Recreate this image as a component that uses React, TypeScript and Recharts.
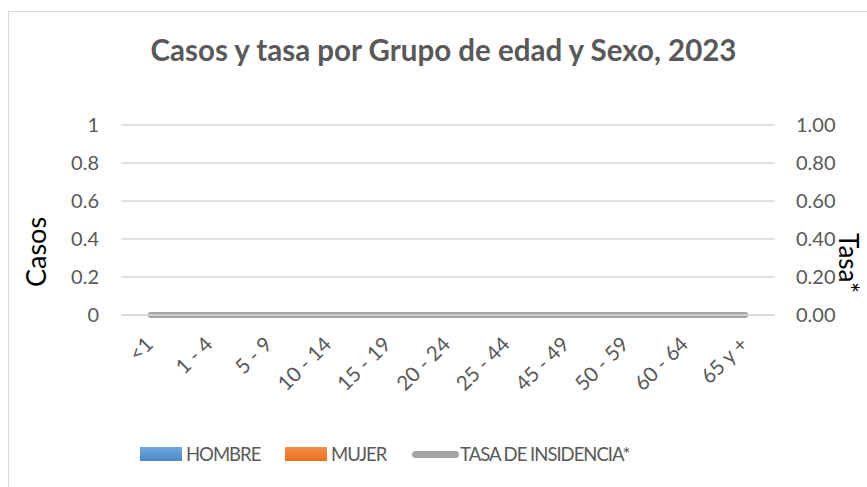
import React from 'react';
import { ComposedChart, Bar, Line, XAxis, YAxis, CartesianGrid } from 'recharts';

const AGE_GROUPS = ['<1', '1 - 4', '5 - 9', '10 - 14', '15 - 19', '20 - 24', '25 - 44', '45 - 49', '50 - 59', '60 - 64', '65 y +'];
const HOMBRE = [0, 0, 0, 0, 0, 0, 0, 0, 0, 0, 0];
const MUJER = [0, 0, 0, 0, 0, 0, 0, 0, 0, 0, 0];
const TASA = [0, 0, 0, 0, 0, 0, 0, 0, 0, 0, 0];
const LEFT_TICKS = [0, 0.2, 0.4, 0.6, 0.8, 1];
const RIGHT_TICKS = [0, 0.2, 0.4, 0.6, 0.8, 1];

const FONT = 'Lato, "Open Sans", sans-serif';
const TEXT = '#595959';

const data = AGE_GROUPS.map((g, i) => ({
  grupo: g,
  hombre: HOMBRE[i],
  mujer: MUJER[i],
  tasa: TASA[i],
}));

// rotated category labels, anchored at their end near the tick
const AgeTick = (props: any) => {
  const { x, y, payload } = props;
  return (
    <text
      transform={`translate(${x - 2},${y + 11}) rotate(-45)`}
      textAnchor="end"
      fill={TEXT}
      fontSize={20.5}
      fontFamily={FONT}
      dominantBaseline="central"
    >
      {payload.value}
    </text>
  );
};

const CasosLabel = () => (
  <text x={35} y={252} transform="rotate(-90 35 252)" textAnchor="middle" dominantBaseline="central" fontSize={27} fontFamily={FONT} fill="#000">
    Casos
  </text>
);

const TasaLabel = () => (
  <text x={849} y={263} transform="rotate(90 849 263)" textAnchor="middle" dominantBaseline="central" fontSize={26} fontFamily={FONT} fill="#000">
    Tasa*
  </text>
);

const LEGEND = [
  { kind: 'blue', label: 'HOMBRE', left: 140 },
  { kind: 'orange', label: 'MUJER', left: 285 },
  { kind: 'line', label: 'TASA DE INSIDENCIA*', left: 412 },
];

const LegendItem = ({ kind, label, left }: { kind: string; label: string; left: number }) => {
  let swatch: React.ReactNode;
  if (kind === 'line') {
    swatch = <span style={{ display: 'inline-block', width: 47, height: 7, borderRadius: 4, background: '#a5a5a5' }} />;
  } else {
    const bg = kind === 'blue'
      ? 'linear-gradient(#72a9df, #4a88c9)'
      : 'linear-gradient(#f58e4f, #e8701a)';
    swatch = <span style={{ display: 'inline-block', width: 42, height: 14, background: bg }} />;
  }
  return (
    <span style={{ position: 'absolute', left, top: 0, display: 'inline-flex', alignItems: 'center', gap: kind === 'line' ? 1 : 4 }}>
      {swatch}
      <span>{label}</span>
    </span>
  );
};

export default function App() {
  return (
    <div style={{ position: 'absolute', left: 0, top: 0, width: 867, height: 487, overflow: 'hidden', background: '#fff' }}>
      <div style={{ position: 'absolute', left: 8, top: 11, width: 900, height: 520, border: '1px solid #d9d9d9' }} />
      <div
        style={{
          position: 'absolute', left: 0, top: 32, width: 887, textAlign: 'center',
          fontFamily: FONT, fontWeight: 700, fontSize: 29.5, color: TEXT,
        }}
      >
        Casos y tasa por Grupo de edad y Sexo, 2023
      </div>
      <div style={{ position: 'absolute', left: 0, top: 0 }}>
        <ComposedChart width={867} height={487} data={data} margin={{ top: 125, right: 0, bottom: 0, left: 0 }} barGap={0}>
          <CartesianGrid vertical={false} stroke="#d9d9d9" strokeWidth={1.5} yAxisId="left" />
          <XAxis
            dataKey="grupo"
            height={172}
            axisLine={{ stroke: '#d9d9d9', strokeWidth: 1.5 }}
            tickLine={false}
            tickSize={0}
            tickMargin={14}
            interval={0}
            tick={<AgeTick />}
          />
          <YAxis
            yAxisId="left"
            width={121}
            domain={[0, 1]}
            ticks={LEFT_TICKS}
            tickFormatter={(v: number) => String(v)}
            axisLine={false}
            tickLine={false}
            tickSize={0}
            tickMargin={22}
            tick={{ fill: TEXT, fontSize: 20, fontFamily: FONT }}
            label={<CasosLabel />}
          />
          <YAxis
            yAxisId="right"
            orientation="right"
            width={92}
            domain={[0, 1]}
            ticks={RIGHT_TICKS}
            tickFormatter={(v: number) => v.toFixed(2)}
            axisLine={false}
            tickLine={false}
            tickSize={0}
            tickMargin={21}
            tick={{ fill: TEXT, fontSize: 20, fontFamily: FONT }}
            label={<TasaLabel />}
          />
          <Bar yAxisId="left" dataKey="hombre" name="HOMBRE" fill="#5b9bd5" isAnimationActive={false} />
          <Bar yAxisId="left" dataKey="mujer" name="MUJER" fill="#ed7d31" isAnimationActive={false} />
          <Line
            yAxisId="right"
            dataKey="tasa"
            name="TASA DE INSIDENCIA*"
            stroke="#a5a5a5"
            strokeWidth={6}
            strokeLinecap="round"
            dot={false}
            activeDot={false}
            isAnimationActive={false}
          />
        </ComposedChart>
      </div>
      <div
        style={{
          position: 'absolute', left: 0, top: 443, fontFamily: FONT, fontSize: 18.5,
          letterSpacing: -1, color: TEXT, whiteSpace: 'nowrap',
        }}
      >
        {LEGEND.map((l) => (
          <LegendItem key={l.label} kind={l.kind} label={l.label} left={l.left} />
        ))}
      </div>
    </div>
  );
}
